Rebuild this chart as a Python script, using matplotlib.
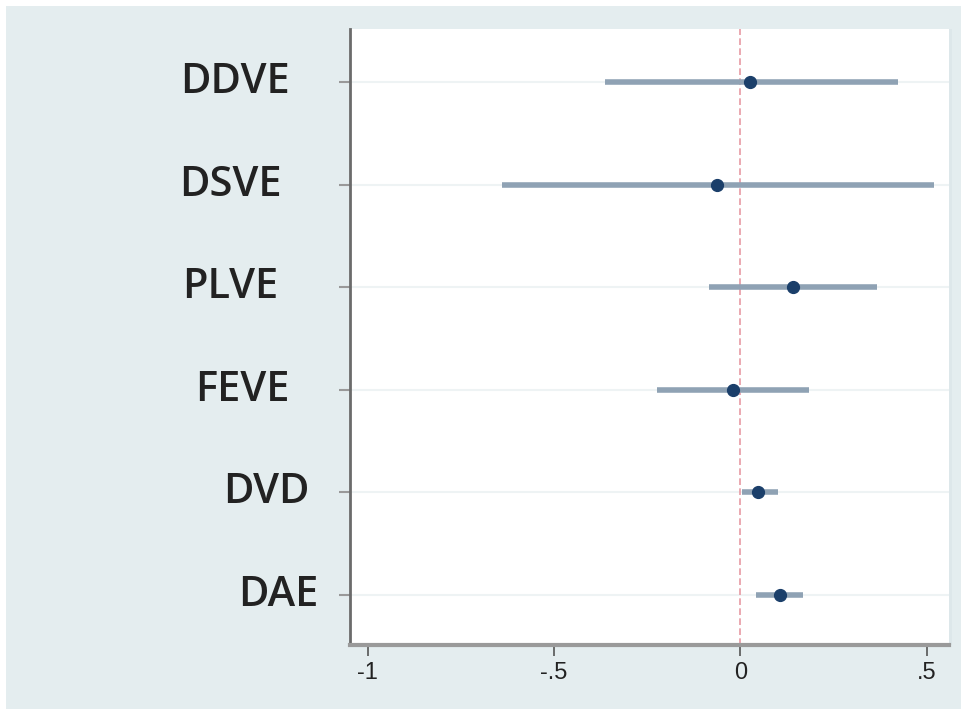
import matplotlib.pyplot as plt
from matplotlib.patches import Rectangle
import numpy as np

# coefficient estimates and 95% CIs, top to bottom
labels = ["DDVE", "DSVE", "PLVE", "FEVE", "DVD", "DAE"]
coef = [0.027, -0.062, 0.140, -0.019, 0.048, 0.105]
lower = [-0.363, -0.640, -0.083, -0.223, 0.003, 0.043]
upper = [0.422, 0.519, 0.368, 0.185, 0.102, 0.169]
xticks = [-1, -0.5, 0, 0.5]
xticklabels = ["-1", "-.5", "0", ".5"]

# right edge of each label in figure pixels (the labels are not aligned)
label_right = [290, 282, 278, 290, 310, 318]

W, H = 961, 709
fig = plt.figure(figsize=(W / 100, H / 100), dpi=100)
fig.patch.set_facecolor("white")
fig.patches.append(Rectangle((6 / W, 0), 1, 1 - 6 / H, transform=fig.transFigure,
                             facecolor="#e4edef", edgecolor="none", zorder=-10))

ax = fig.add_axes([350 / W, (H - 645) / H, 599 / W, (645 - 29) / H])
ax.set_facecolor("white")

n = len(labels)
y = np.arange(n, 0, -1)

for yy in y:
    ax.axhline(yy, color="#eef3f4", lw=1.5, zorder=0)
ax.axvline(0, color="#e79aa3", lw=1.2, ls=(0, (4, 2)), zorder=1)

ax.hlines(y, lower, upper, color="#8fa2b4", lw=4, zorder=2)
ax.plot(coef, y, "o", color="#1b3f6a", ms=8.5, zorder=3)

ax.set_xlim(-1.048, 0.56)
ax.set_ylim(0.513, 6.517)
ax.set_xticks(xticks)
ax.set_xticklabels(xticklabels, fontsize=17, color="#222222", family="Liberation Sans")
ax.set_yticks(y)
ax.set_yticklabels([])
ax.tick_params(axis="y", length=8, width=1.5, color="#999999")
ax.tick_params(axis="x", length=8, width=1.2, color="#555555", pad=4)

for s in ["top", "right"]:
    ax.spines[s].set_visible(False)
ax.spines["left"].set_color("#6b6b6b")
ax.spines["left"].set_linewidth(2)
ax.spines["bottom"].set_color("#9a9a9a")
ax.spines["bottom"].set_linewidth(3)

# thin light border on the right side of the plot region
fig.patches.append(Rectangle((949 / W, (H - 645) / H), 3 / W, (645 - 29) / H,
                             transform=fig.transFigure, facecolor="#dde7ea",
                             edgecolor="none", zorder=-5))

for lab, yy, xr in zip(labels, y, label_right):
    yp = ax.transData.transform((0, yy))[1]
    fig.text(xr / W, yp / H, lab, ha="right", va="center", fontsize=30,
             family="Open Sans", fontweight="semibold", color="#222222")

fig.savefig("out.png", dpi=100)
